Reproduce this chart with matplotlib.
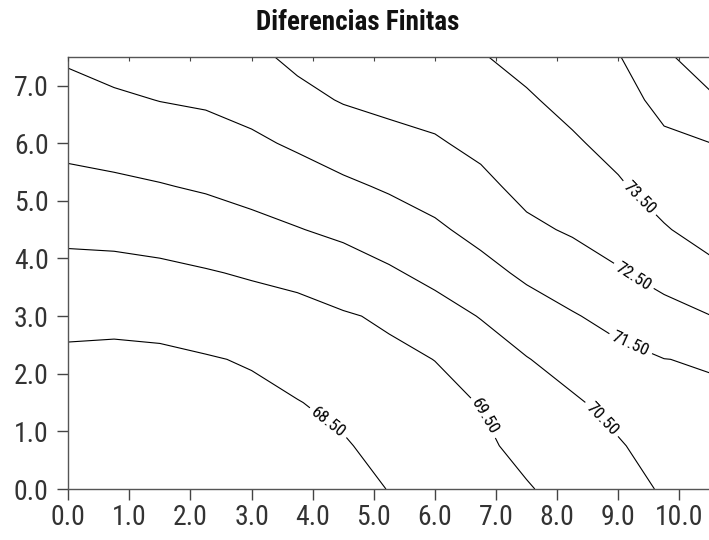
import numpy as np
import matplotlib.pyplot as plt

plt.rcParams['font.family'] = ['Roboto Condensed', 'Liberation Sans', 'DejaVu Sans']

# malla de la solucion (columnas en x, valores de abajo hacia arriba en y)
x = [0.0, 0.75, 1.5, 2.25, 3.0, 3.75, 4.5, 5.25, 6.0, 6.75, 7.5, 8.25, 9.0, 9.75, 10.5]
y = [0.0, 0.75, 1.5, 2.25, 3.0, 3.75, 4.5, 5.25, 6.0, 6.75, 7.5]

col_00 = [67.40, 67.72, 68.04, 68.32, 68.77, 69.23, 69.71, 70.24, 70.73, 71.17, 71.62]
col_01 = [67.42, 67.73, 68.04, 68.28, 68.75, 69.24, 69.76, 70.33, 70.85, 71.36, 71.85]
col_02 = [67.49, 67.79, 68.09, 68.32, 68.81, 69.31, 69.87, 70.45, 70.99, 71.52, 72.02]
col_03 = [67.61, 67.89, 68.18, 68.44, 68.94, 69.44, 70.02, 70.60, 71.11, 71.62, 72.16]
col_04 = [67.77, 68.03, 68.30, 68.57, 69.09, 69.59, 70.23, 70.81, 71.34, 71.83, 72.30]
col_05 = [67.98, 68.23, 68.47, 68.86, 69.24, 69.72, 70.46, 71.05, 71.63, 72.25, 72.70]
col_06 = [68.23, 68.42, 68.71, 69.07, 69.42, 70.04, 70.70, 71.33, 71.97, 72.56, 72.80]
col_07 = [68.52, 68.78, 69.06, 69.33, 69.62, 70.38, 71.00, 71.61, 72.19, 72.75, 73.00]
col_08 = [68.83, 69.05, 69.28, 69.51, 70.13, 70.75, 71.35, 71.89, 72.41, 72.83, 73.22]
col_09 = [69.14, 69.33, 69.53, 70.03, 70.54, 71.20, 71.78, 72.28, 72.71, 73.08, 73.45]
col_10 = [69.43, 69.75, 70.11, 70.46, 71.05, 71.67, 72.32, 72.76, 73.05, 73.40, 73.75]
col_11 = [69.82, 70.11, 70.38, 70.88, 71.43, 72.04, 72.60, 73.00, 73.39, 73.75, 74.10]
col_12 = [70.20, 70.42, 70.80, 71.25, 71.79, 72.42, 72.92, 73.40, 73.77, 74.11, 74.45]
col_13 = [70.58, 70.88, 71.19, 71.49, 72.17, 72.83, 73.43, 73.88, 74.31, 74.79, 75.32]
col_14 = [70.95, 71.16, 71.37, 71.56, 72.48, 73.26, 73.85, 74.12, 74.49, 75.33, 76.10]

niveles = [68.5, 69.5, 70.5, 71.5, 72.5, 73.5, 74.5, 75.5]
niveles_etiqueta = [68.5, 69.5, 70.5, 71.5, 72.5, 73.5]

x_ticks = [0.0, 1.0, 2.0, 3.0, 4.0, 5.0, 6.0, 7.0, 8.0, 9.0, 10.0]
y_ticks = [0.0, 1.0, 2.0, 3.0, 4.0, 5.0, 6.0, 7.0]

columnas = [col_00, col_01, col_02, col_03, col_04, col_05, col_06, col_07,
            col_08, col_09, col_10, col_11, col_12, col_13, col_14]
Z = np.array(columnas).T

fig = plt.figure(figsize=(7.09, 5.40), dpi=100)
ax = fig.add_axes([0.0963, 0.0944, 0.905, 0.8006])

cs = ax.contour(x, y, Z, levels=niveles, colors='black', linewidths=0.8)

# donde van las etiquetas
pos_etiquetas = [(4.29, 1.20), (6.87, 1.28), (8.78, 1.26),
                 (9.21, 2.54), (9.25, 3.69), (9.32, 5.02)]
ax.clabel(cs, levels=niveles_etiqueta, fmt='%.2f', fontsize=12.5,
          manual=pos_etiquetas, inline=True, inline_spacing=4)

ax.set_xlim(0, 10.5)
ax.set_ylim(0, 7.5)
ax.set_xticks(x_ticks)
ax.set_xticklabels([f'{v:.1f}' for v in x_ticks])
ax.set_yticks(y_ticks)
ax.set_yticklabels([f'{v:.1f}' for v in y_ticks])
ax.tick_params(direction='out', length=8, width=1, color='#444444',
               labelsize=20, labelcolor='#333333')
ax.tick_params(axis='y', pad=6)
ax.tick_params(axis='x', pad=3)
ax.spines['right'].set_visible(False)
for s in ['left', 'bottom', 'top']:
    ax.spines[s].set_color('#555555')
    ax.spines[s].set_linewidth(1)

# marcas pequeñas arriba, hacia adentro
ax_top = ax.twiny()
ax_top.set_xlim(0, 10.5)
ax_top.set_xticks(x_ticks)
ax_top.tick_params(axis='x', direction='in', length=3, color='#444444', labeltop=False)
for s in ax_top.spines.values():
    s.set_visible(False)

fig.text(0.504, 0.9444, 'Diferencias Finitas', ha='center', va='baseline',
         fontsize=19.5, fontweight='bold', color='#111111')

fig.savefig('out.png', dpi=100)
